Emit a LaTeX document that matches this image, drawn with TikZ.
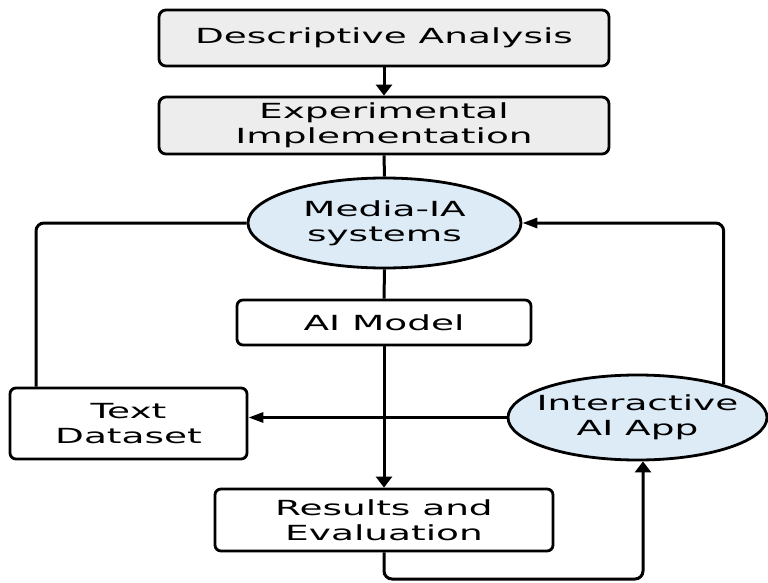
\documentclass[tikz,border=0pt]{standalone}
\usepackage{fontspec}
\setmainfont{DejaVu Sans}[FakeStretch=1.8]
\usetikzlibrary{shapes.geometric,arrows.meta}
\definecolor{boxgray}{HTML}{EDEDED}
\definecolor{ellblue}{HTML}{DDEBF7}
\begin{document}
\begin{tikzpicture}[x=1pt,y=-1pt,
  every node/.style={font=\fontsize{20.8}{25}\selectfont, align=center, line width=2.8pt, draw=black},
  graybox/.style={rectangle, rounded corners=7pt, fill=boxgray, inner sep=0pt},
  whitebox/.style={rectangle, rounded corners=6pt, fill=white, inner sep=0pt},
  ellnode/.style={ellipse, fill=ellblue, inner xsep=-45pt, inner ysep=-8pt},
  conn/.style={line width=3pt, rounded corners=8pt},
  vtip/.style={-{Triangle[length=11pt,width=16pt]}},
  htip/.style={-{Triangle[length=15pt,width=10pt]}}]
\useasboundingbox (0,0) rectangle (768,583);
\fill[white] (0,0) rectangle (768,583);

\node[graybox, minimum width=450pt, minimum height=56pt] (desc) at (384,38) {Descriptive Analysis};
\node[graybox, minimum width=450pt, minimum height=57pt] (exp) at (384,125.5) {Experimental\\Implementation};
\node[ellnode, minimum width=273pt, minimum height=90pt] (media) at (384.5,223) {Media-IA\\systems};
\node[whitebox, minimum width=294pt, minimum height=45pt] (aim) at (384,322.5) {AI Model};
\node[whitebox, minimum width=237pt, minimum height=71pt] (text) at (128.5,423.5) {Text\\Dataset};
\node[whitebox, minimum width=338pt, minimum height=62pt] (res) at (384,520) {Results and\\Evaluation};
\node[ellnode, minimum width=259pt, minimum height=85pt] (inter) at (637.5,417.5) {Interactive\\AI App};

\coordinate (lc) at (36,220);
\coordinate (rb) at (643,579);

\draw[conn, vtip] (desc.south) -- (exp.north);
\draw[conn] (exp.south) -- (media.north);
\draw[conn] (media.south) -- (aim.north);
\draw[conn, vtip] (aim.south) -- (res.north);
\draw[conn] (media.west) -| (text.north -| lc);
\draw[conn, htip] (inter.21) |- (media.east);
\draw[conn, htip] (inter.west) -- (inter.west -| text.east);
\draw[conn, vtip] (res.south) |- (rb) -- (inter.south -| rb);
\end{tikzpicture}
\end{document}
